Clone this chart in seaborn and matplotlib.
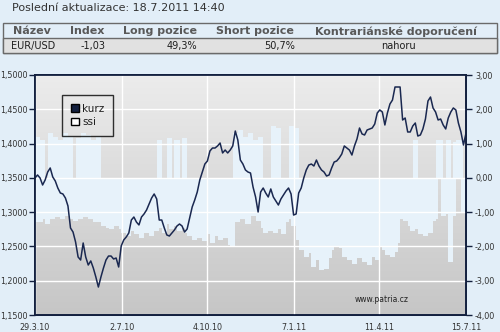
import numpy as np
import pandas as pd
import matplotlib
matplotlib.use("Agg")
import matplotlib.pyplot as plt
import matplotlib.dates as mdates
from matplotlib.patches import Rectangle, Patch
from matplotlib.colors import LinearSegmentedColormap
import seaborn as sns

sns.set_theme(style="white")
plt.rcParams["font.family"] = ["DejaVu Sans"]

# ---------------- data ----------------
start_date = "2010-03-29"
end_date = "2011-07-15"

kurz = [
    1.3498, 1.3542, 1.3498, 1.3396, 1.3469, 1.3585, 1.3644, 1.3513, 1.3454, 1.3352,
    1.3279, 1.3265, 1.3206, 1.3090, 1.2769, 1.2710, 1.2565, 1.2346, 1.2302, 1.2550,
    1.2346, 1.2229, 1.2288, 1.2185, 1.2054, 1.1908, 1.2054, 1.2185, 1.2302, 1.2360,
    1.2360, 1.2317, 1.2331, 1.2200, 1.2506, 1.2594, 1.2638, 1.2696, 1.2885, 1.2929,
    1.2856, 1.2813, 1.2929, 1.2973, 1.3031, 1.3119, 1.3206, 1.3265, 1.3192, 1.2885,
    1.2885, 1.2769, 1.2667, 1.2652, 1.2696, 1.2740, 1.2798, 1.2827, 1.2798, 1.2710,
    1.2754, 1.2915, 1.3075, 1.3177, 1.3294, 1.3469, 1.3585, 1.3702, 1.3746, 1.3892,
    1.3935, 1.3935, 1.3965, 1.4008, 1.3863, 1.3906, 1.3863, 1.3906, 1.3965, 1.4183,
    1.4052, 1.3760, 1.3702, 1.3615, 1.3585, 1.3571, 1.3367, 1.3221, 1.3002, 1.3294,
    1.3352, 1.3279, 1.3221, 1.3338, 1.3221, 1.3163, 1.3104, 1.3192, 1.3250, 1.3308,
    1.3352, 1.3265, 1.2958, 1.2973, 1.3279, 1.3352, 1.3498, 1.3615, 1.3687, 1.3702,
    1.3673, 1.3760, 1.3673, 1.3615, 1.3585, 1.3527, 1.3542, 1.3644, 1.3731, 1.3746,
    1.3790, 1.3848, 1.3965, 1.3935, 1.3906, 1.3833, 1.3965, 1.4067, 1.4227, 1.4140,
    1.4125, 1.4198, 1.4213, 1.4227, 1.4285, 1.4446, 1.4490, 1.4460, 1.4271, 1.4446,
    1.4577, 1.4635, 1.4825, 1.4825, 1.4825, 1.4344, 1.4373, 1.4169, 1.4169, 1.4256,
    1.4300, 1.4110, 1.4125, 1.4213, 1.4358, 1.4621, 1.4679, 1.4519, 1.4460, 1.4344,
    1.4358, 1.4271, 1.4213, 1.4373, 1.4460, 1.4519, 1.4490, 1.4300, 1.4169, 1.3979,
    1.4154,
]

ssi = [
    -1.30, 1.20, -1.30, 1.10, -1.20, -1.35, 1.30, -1.20, 1.20, -1.15,
    1.10, -1.20, 1.30, -1.10, 1.20, -1.20, -1.25, 1.15, -1.20, 1.30,
    -1.15, 1.25, -1.20, 1.10, -1.30, 1.20, -1.30, -1.40, -1.35, -1.45,
    -1.50, -1.35, -1.40, -1.30, -1.50, -1.60, -1.45, -1.70, -1.55, -1.40,
    -1.65, -1.50, -1.75, -1.45, -1.60, -1.50, -1.70, -1.40, -1.55, 1.10,
    -1.45, -1.60, -1.35, 1.15, -1.50, -1.40, 1.10, -1.55, -1.45, 1.15,
    -1.60, -1.70, -1.55, -1.80, -1.60, -1.75, -1.50, -1.85, -1.65, -1.55,
    -1.90, -1.70, -1.60, -1.80, -1.55, -1.75, -1.65, -1.95, -2.00, 1.30,
    -1.30, 1.40, -1.20, 1.20, -1.35, 1.30, -1.10, 1.10, -1.25, 1.20,
    -1.45, -1.60, -1.40, -1.55, 1.50, -1.60, 1.45, -1.50, -1.65, -1.30,
    -1.20, 1.50, -1.40, 1.45, -1.80, -2.10, -1.95, -2.30, -2.05, -2.20,
    -2.60, -2.15, -2.40, -2.70, -2.50, -2.65, -2.35, -2.10, -1.90, -2.00,
    -1.75, -2.05, -2.30, -2.15, -2.40, -2.25, -2.50, -2.20, -2.35, -2.05,
    -2.45, -2.20, -2.55, -2.30, -2.10, -2.40, -2.00, -1.85, -2.10, -2.25,
    -2.05, -2.30, -2.15, -1.90, -1.20, -1.15, -1.25, -1.10, -1.40, -1.55,
    1.10, -1.50, -1.65, -1.45, -1.70, -1.35, -1.60, -1.25, -1.20, 1.10,
    1.10, -1.10, -1.05, 1.10, -2.45, -1.10, 1.05, 1.10, 1.10, -1.00,
    -1.03,
]

tick_dates = ["2010-03-29", "2010-07-02", "2010-10-04", "2011-01-07", "2011-04-11", "2011-07-15"]
tick_labels = ["29.3.10", "2.7.10", "4.10.10", "7.1.11", "11.4.11", "15.7.11"]
kurz_ticks = [1.15, 1.20, 1.25, 1.30, 1.35, 1.40, 1.45, 1.50]
ssi_ticks = [-4, -3, -2, -1, 0, 1, 2, 3]

header_cols = ["Název", "Index", "Long pozice", "Short pozice", "Kontrariánské doporučení"]
row_vals = ["EUR/USD", "-1,03", "49,3%", "50,7%", "nahoru"]
update_text = "Poslední aktualizace: 18.7.2011 14:40"

dates = pd.date_range(start_date, end_date, periods=len(kurz))
df = pd.DataFrame({"date": dates, "kurz": kurz, "ssi": ssi})

# ---------------- figure ----------------
W, H = 500, 332
fig = plt.figure(figsize=(5, 3.32), dpi=100)
page_bg = "#e2eef8"
fig.patch.set_facecolor(page_bg)

def fx(px):
    return px / W

def fy(py):
    return 1 - py / H

# header text
fig.text(fx(12.5), fy(8), update_text, fontsize=8, color="#333333", va="center", ha="left")

# table
fig.add_artist(Rectangle((fx(3), fy(53)), fx(494), 30 / H, transform=fig.transFigure,
                         fc="none", ec="#6a6a6a", lw=1.0))
fig.add_artist(Rectangle((fx(3), fy(53)), fx(494), 15 / H, transform=fig.transFigure,
                         fc="#e1e1e1", ec="#6a6a6a", lw=1.0))
hx = [13, 70, 123, 216, 315]
for x, t in zip(hx, header_cols):
    fig.text(fx(x), fy(31.5), t, fontsize=8, fontweight="bold", color="#595959",
             va="center", ha="left")
row_pos = [(11.5, "left"), (81, "left"), (197, "right"), (295, "right"), (398, "center")]
for (x, ha), t in zip(row_pos, row_vals):
    fig.text(fx(x), fy(46), t, fontsize=7, color="#1e1e1e", va="center", ha=ha)

# axes
ax = fig.add_axes([fx(35), fy(315), 431 / W, 240 / H])
x0 = mdates.date2num(pd.Timestamp(start_date))
x1 = mdates.date2num(pd.Timestamp(end_date))

cmap = LinearSegmentedColormap.from_list("bg", ["#ececec", "#c6c6c6"])
ax.imshow(np.linspace(0, 1, 256).reshape(-1, 1), cmap=cmap, aspect="auto",
          extent=[x0, x1, -4, 3], origin="upper", zorder=0)

ax.bar(df["date"], df["ssi"], width=5.6, color="#e7f2fa", linewidth=0, zorder=1)
ax.set_xlim(pd.Timestamp(start_date), pd.Timestamp(end_date))
ax.set_ylim(-4, 3)

axk = ax.twinx()
sns.lineplot(data=df, x="date", y="kurz", ax=axk, color="#1a2850", linewidth=1.1)
axk.set_ylim(1.15, 1.50)
axk.set_xlim(pd.Timestamp(start_date), pd.Timestamp(end_date))
axk.set_xlabel("")
axk.set_ylabel("")

# ticks
spine_c = "#13203f"
ax.set_xticks(pd.to_datetime(tick_dates))
ax.set_xticklabels(tick_labels)
ax.set_yticks(ssi_ticks)
ax.set_yticklabels([f"{v:.2f}".replace(".", ",") for v in ssi_ticks])
ax.yaxis.set_ticks_position("right")
ax.yaxis.set_label_position("right")
axk.set_yticks(kurz_ticks)
axk.set_yticklabels([f"{v:.4f}".replace(".", ",") for v in kurz_ticks])
axk.yaxis.set_ticks_position("left")
axk.yaxis.set_label_position("left")

for a in (ax, axk):
    a.tick_params(axis="both", direction="out", length=4, width=1, color=spine_c,
                  labelsize=5.8, labelcolor="#333333", pad=1.2)
    for s in a.spines.values():
        s.set_color(spine_c)
        s.set_linewidth(1.3)
ax.tick_params(axis="x", pad=1.5)
ax.tick_params(axis="y", pad=2.5)

ax.grid(True, color="white", linewidth=1.0)
ax.set_axisbelow(False)

# legend
handles = [Patch(facecolor=spine_c, edgecolor="black", label="kurz"),
           Patch(facecolor="white", edgecolor="black", label="ssi")]
leg = axk.legend(handles=handles, loc="upper left", bbox_to_anchor=(0.0626, 0.9167),
                 borderaxespad=0, frameon=True, fancybox=False, facecolor="none",
                 edgecolor="black", fontsize=7.5, handlelength=0.75, handleheight=0.75,
                 borderpad=0.85, labelspacing=0.3, handletextpad=0.35)
leg.get_frame().set_linewidth(1.0)
for t in leg.get_texts():
    t.set_color("#1e1e1e")

axk.text((355 - 35) / 431, (315 - 300) / 240, "www.patria.cz", transform=axk.transAxes,
         fontsize=5.5, color="#222222", ha="left", va="center")

fig.savefig("out.png", dpi=100, facecolor=page_bg)
